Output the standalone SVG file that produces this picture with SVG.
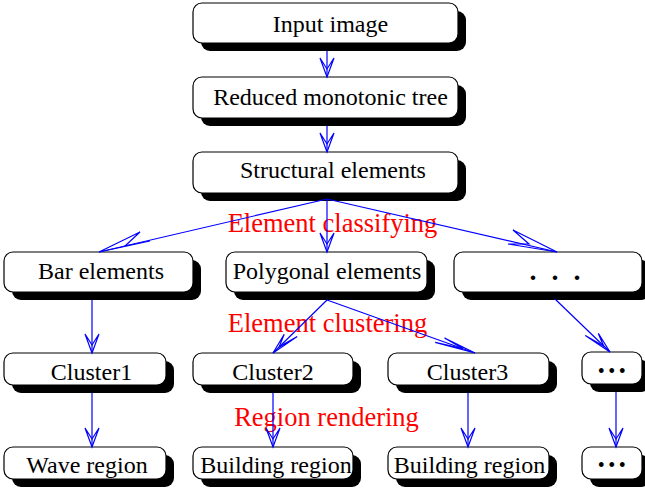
<svg xmlns="http://www.w3.org/2000/svg" width="645" height="492" viewBox="0 0 645 492">
  <style>
    .shadow { fill: #000; }
    .box { fill: #fff; stroke: #000; stroke-width: 1.2; }
    .t { font-family: "Liberation Serif", "Times New Roman", serif; font-size: 24px; fill: #000; text-anchor: middle; }
    .lbl { font-family: "Liberation Serif", "Times New Roman", serif; font-size: 26.5px; fill: #ff0000; text-anchor: middle; }
    .dots { font-family: "Liberation Serif", "Times New Roman", serif; font-size: 20px; fill: #000; text-anchor: middle; letter-spacing: 3.5px; }
    .wide { font-weight: bold; font-size: 28px; letter-spacing: 4px; }
    .edge { stroke: #0000ff; stroke-width: 1.2; fill: none; }
    .head { stroke: #0000ff; stroke-width: 1.2; fill: none; stroke-linejoin: miter; }
  </style>
  <defs>
    <marker id="arrow" markerUnits="userSpaceOnUse" orient="auto" markerWidth="24" markerHeight="18" refX="0" refY="0" viewBox="-21 -9 24 18" overflow="visible">
      <path class="head" d="M-19,-7 L0,0 L-19,7 L-8,0 Z"/>
    </marker>
  </defs>

  <!-- boxes: shadow offset 8px down/right, rounded corners -->
  <g id="input-image">
    <rect class="shadow" x="201" y="11" width="265" height="40" rx="9"/>
    <rect class="box" x="193" y="3" width="265" height="40" rx="9"/>
    <text class="t" x="330.5" y="32">Input image</text>
  </g>
  <g id="reduced-tree">
    <rect class="shadow" x="201" y="85" width="265" height="41" rx="9"/>
    <rect class="box" x="193" y="77" width="265" height="41" rx="9"/>
    <text class="t" x="330.5" y="105">Reduced monotonic tree</text>
  </g>
  <g id="structural-elements">
    <rect class="shadow" x="201" y="160" width="265" height="41" rx="9"/>
    <rect class="box" x="193" y="152" width="265" height="41" rx="9"/>
    <text class="t" x="333" y="178">Structural elements</text>
  </g>

  <g id="bar-elements">
    <rect class="shadow" x="12" y="260" width="189" height="40" rx="9"/>
    <rect class="box" x="4" y="252" width="189" height="40" rx="9"/>
    <text class="t" x="101" y="279">Bar elements</text>
  </g>
  <g id="polygonal-elements">
    <rect class="shadow" x="234" y="260" width="201" height="40" rx="9"/>
    <rect class="box" x="226" y="252" width="201" height="40" rx="9"/>
    <text class="t" x="327" y="279">Polygonal elements</text>
  </g>
  <g id="other-elements">
    <rect class="shadow" x="462" y="260" width="188" height="40" rx="9"/>
    <rect class="box" x="454" y="252" width="188" height="40" rx="9"/>
    <text class="t wide" x="557" y="280">. . .</text>
  </g>

  <g id="cluster1">
    <rect class="shadow" x="12" y="361" width="162" height="32" rx="9"/>
    <rect class="box" x="4" y="353" width="162" height="32" rx="9"/>
    <text class="t" x="91.5" y="380">Cluster1</text>
  </g>
  <g id="cluster2">
    <rect class="shadow" x="201" y="361" width="160" height="32" rx="9"/>
    <rect class="box" x="193" y="353" width="160" height="32" rx="9"/>
    <text class="t" x="273" y="380">Cluster2</text>
  </g>
  <g id="cluster3">
    <rect class="shadow" x="396" y="361" width="161" height="32" rx="9"/>
    <rect class="box" x="388" y="353" width="161" height="32" rx="9"/>
    <text class="t" x="467.5" y="380">Cluster3</text>
  </g>
  <g id="cluster-more">
    <rect class="shadow" x="590" y="360" width="60" height="32" rx="9"/>
    <rect class="box" x="582" y="352" width="60" height="32" rx="9"/>
    <text class="dots" x="613.5" y="378">•••</text>
  </g>

  <g id="wave-region">
    <rect class="shadow" x="12" y="455" width="162" height="32" rx="9"/>
    <rect class="box" x="4" y="447" width="162" height="32" rx="9"/>
    <text class="t" x="87" y="473">Wave region</text>
  </g>
  <g id="building-region-2">
    <rect class="shadow" x="201" y="455" width="160" height="32" rx="9"/>
    <rect class="box" x="193" y="447" width="160" height="32" rx="9"/>
    <text class="t" x="276" y="473">Building region</text>
  </g>
  <g id="building-region-3">
    <rect class="shadow" x="396" y="455" width="161" height="32" rx="9"/>
    <rect class="box" x="388" y="447" width="161" height="32" rx="9"/>
    <text class="t" x="469.5" y="473">Building region</text>
  </g>
  <g id="region-more">
    <rect class="shadow" x="590" y="455" width="60" height="32" rx="9"/>
    <rect class="box" x="582" y="447" width="60" height="32" rx="9"/>
    <text class="dots" x="613.5" y="472">•••</text>
  </g>

  <!-- stage labels -->
  <g id="stage-labels">
    <text class="lbl" x="332.5" y="232">Element classifying</text>
    <text class="lbl" x="327.5" y="332">Element clustering</text>
    <text class="lbl" x="326.5" y="426">Region rendering</text>
  </g>

  <!-- connectors -->
  <g id="connectors">
    <line class="edge" x1="327" y1="51" x2="327" y2="77" marker-end="url(#arrow)"/>
    <line class="edge" x1="327" y1="126" x2="327" y2="152" marker-end="url(#arrow)"/>
    <line class="edge" x1="327" y1="200" x2="327" y2="252" marker-end="url(#arrow)"/>
    <line class="edge" x1="92" y1="300" x2="92" y2="353" marker-end="url(#arrow)"/>
    <line class="edge" x1="92" y1="393" x2="92" y2="447" marker-end="url(#arrow)"/>
    <line class="edge" x1="273" y1="393" x2="273" y2="447" marker-end="url(#arrow)"/>
    <line class="edge" x1="468" y1="393" x2="468" y2="447" marker-end="url(#arrow)"/>
    <line class="edge" x1="616" y1="392" x2="616" y2="447" marker-end="url(#arrow)"/>

    <line class="edge" x1="327" y1="199" x2="99" y2="252"/>
    <path class="head" d="M140,232 L99,252 L150,241 L125,246 Z"/>
    <line class="edge" x1="327" y1="199" x2="557" y2="252"/>
    <path class="head" d="M513,230 L557,252 L508,244 L529,244 Z"/>

    <line class="edge" x1="327" y1="300" x2="273" y2="353"/>
    <path class="head" d="M284.2,334.3 L273,353 L297.2,336.4 L279.2,346.8 Z"/>
    <line class="edge" x1="327" y1="300" x2="475" y2="353"/>
    <path class="head" d="M435.2,342.3 L475,353 L444.6,338.1 L462.7,348.5 Z"/>
    <line class="edge" x1="555" y1="299" x2="610" y2="352"/>
    <path class="head" d="M585.3,335.5 L610,352 L598.3,333.4 L603.6,345.9 Z"/>
  </g>
</svg>
